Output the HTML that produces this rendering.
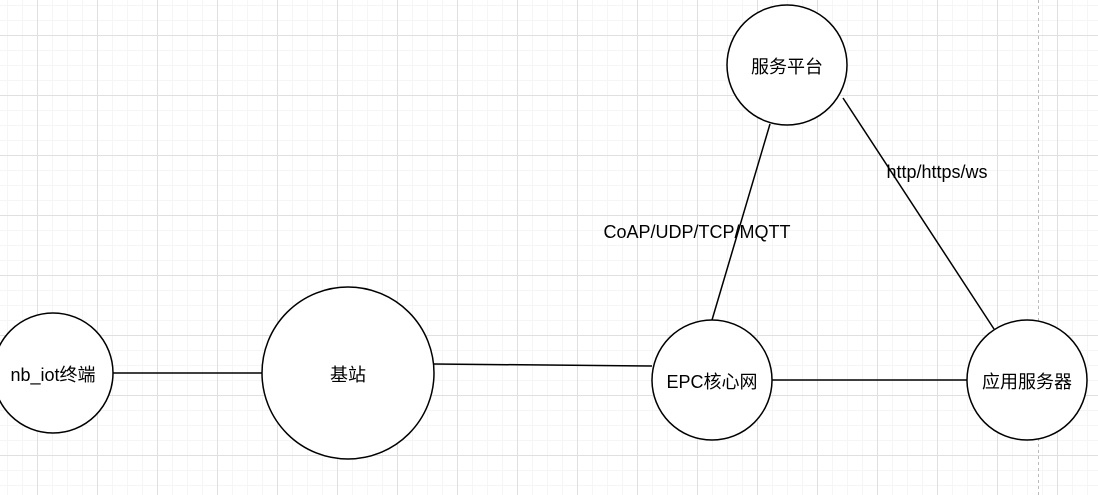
<!DOCTYPE html>
<html><head><style>
html,body{margin:0;padding:0;background:#fff}
svg{display:block}
text{font-family:"Liberation Sans","Noto Sans CJK SC",sans-serif;font-size:18px;fill:#000}
</style></head><body>
<svg width="1098" height="495" xmlns="http://www.w3.org/2000/svg">
<defs>
<pattern id="minor" x="7" y="5" width="15" height="15" patternUnits="userSpaceOnUse">
<path d="M0.5 0V15M0 0.5H15" stroke="#f5f5f5" stroke-width="1" fill="none"/>
</pattern>
<pattern id="major" x="37" y="35" width="60" height="60" patternUnits="userSpaceOnUse">
<path d="M0.5 0V60M0 0.5H60" stroke="#e0e0e0" stroke-width="1" fill="none"/>
</pattern>
</defs>
<rect width="1098" height="495" fill="url(#minor)"/>
<rect width="1098" height="495" fill="url(#major)"/>
<line x1="1038.5" y1="0" x2="1038.5" y2="495" stroke="#bbb" stroke-dasharray="3,3"/>
<g stroke="#000" stroke-width="1.5" fill="none">
<line x1="113" y1="373" x2="262" y2="373"/>
<line x1="434" y1="364" x2="652" y2="366"/>
<line x1="772" y1="380" x2="967" y2="380"/>
<line x1="712" y1="320" x2="770" y2="124"/>
<line x1="843" y1="98" x2="994" y2="329"/>
</g>
<g stroke="#000" stroke-width="1.5" fill="#fff">
<circle cx="53" cy="373" r="60"/>
<circle cx="348" cy="373" r="86"/>
<circle cx="712" cy="380" r="60"/>
<circle cx="1027" cy="380" r="60"/>
<circle cx="787" cy="65" r="60"/>
</g>
<text x="53" y="381" text-anchor="middle">nb_iot终端</text>
<text x="348" y="381" text-anchor="middle">基站</text>
<text x="712" y="388" text-anchor="middle">EPC核心网</text>
<text x="1027" y="388" text-anchor="middle">应用服务器</text>
<text x="787" y="73" text-anchor="middle">服务平台</text>
<text x="937" y="178" text-anchor="middle">http/https/ws</text>
<text x="697" y="238" text-anchor="middle">CoAP/UDP/TCP/MQTT</text>
</svg>
</body></html>
